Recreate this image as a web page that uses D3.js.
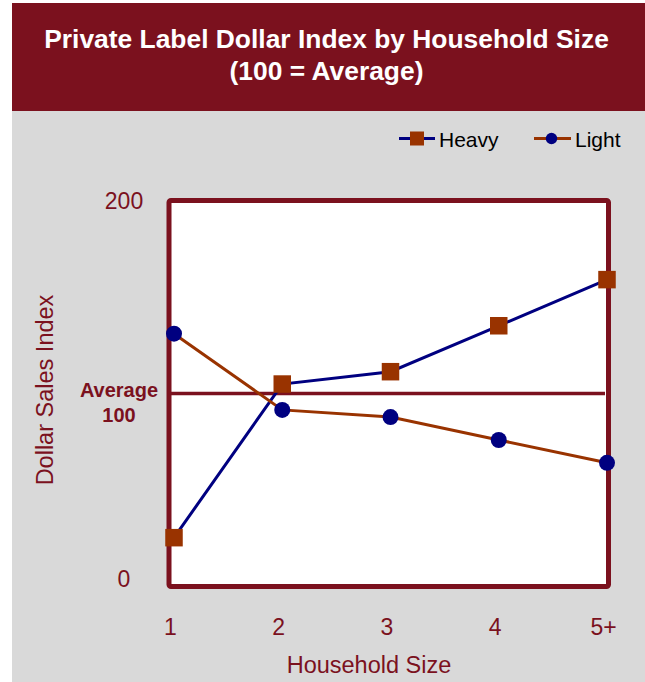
<!DOCTYPE html>
<html>
<head>
<meta charset="utf-8">
<script src="https://cdn.jsdelivr.net/npm/d3@7/dist/d3.min.js"></script>
<style>
  html, body { margin: 0; padding: 0; background: #ffffff; }
  svg { display: block; font-family: "Liberation Sans", Arial, sans-serif; }
</style>
</head>
<body>
<div id="chart"></div>
<script>
var categories = ['1', '2', '3', '4', '5+'];
var heavy = [25.3, 104.9, 111.3, 135.1, 159.0];
var light = [131.0, 91.5, 87.8, 75.9, 64.1];
var yTicks = [0, 200];
var averageValue = 100;

(function () {
    'use strict';
    var width = 645, height = 682;
    var red = '#7b111e', gray = '#d9d9d9', navy = '#000080', brown = '#993300';

    var svg = d3.select('#chart').append('svg')
        .attr('width', width)
        .attr('height', height);

    // backgrounds
    svg.append('rect').attr('x', 12).attr('y', 111).attr('width', width - 12).attr('height', height - 111).attr('fill', gray);
    svg.append('rect').attr('x', 12).attr('y', 3).attr('width', width - 12).attr('height', 108).attr('fill', red);

    var title = svg.append('text')
        .attr('text-anchor', 'middle')
        .attr('fill', '#ffffff')
        .attr('font-weight', 'bold')
        .attr('font-size', 26.4);
    title.append('tspan').attr('x', 326.5).attr('y', 47.5).text('Private Label Dollar Index by Household Size');
    title.append('tspan').attr('x', 326.5).attr('y', 79.5).text('(100 = Average)');

    var x = d3.scalePoint().domain(categories).range([174, 607]);
    var y = d3.scaleLinear().domain([0, 200]).range([586.5, 200.5]);

    // plot frame
    svg.append('rect')
        .attr('x', 169).attr('y', y(200))
        .attr('width', 608.5 - 169).attr('height', y(0) - y(200))
        .attr('rx', 2)
        .attr('fill', '#ffffff')
        .attr('stroke', red)
        .attr('stroke-width', 5);

    // average line
    svg.append('line')
        .attr('x1', 171).attr('x2', 605)
        .attr('y1', y(averageValue)).attr('y2', y(averageValue))
        .attr('stroke', red)
        .attr('stroke-width', 3.5);

    // y ticks
    svg.selectAll('.ytick').data(yTicks).enter().append('text')
        .attr('class', 'ytick')
        .attr('x', 124)
        .attr('y', function (d) { return d === 0 ? y(d) : y(d) + 8; })
        .attr('text-anchor', 'middle')
        .attr('fill', red)
        .attr('font-size', 23)
        .text(function (d) { return d; });

    var avgLabel = svg.append('text')
        .attr('text-anchor', 'middle')
        .attr('fill', red)
        .attr('font-weight', 'bold')
        .attr('font-size', 20);
    avgLabel.append('tspan').attr('x', 119).attr('y', y(averageValue) + 3).text('Average');
    avgLabel.append('tspan').attr('x', 119).attr('y', y(averageValue) + 28).text(averageValue);

    svg.append('text')
        .attr('transform', 'translate(53,390) rotate(-90)')
        .attr('text-anchor', 'middle')
        .attr('fill', red)
        .attr('font-size', 23.5)
        .text('Dollar Sales Index');

    // x axis labels
    var xAxis = d3.axisBottom(x).tickSize(0).tickPadding(0);
    var gx = svg.append('g')
        .attr('transform', 'translate(-4,618)')
        .call(xAxis);
    gx.select('.domain').remove();
    gx.selectAll('text')
        .attr('fill', red)
        .attr('font-size', 23)
        .attr('font-family', '"Liberation Sans", Arial, sans-serif')
        .attr('dy', '0.72em');

    svg.append('text')
        .attr('x', 369).attr('y', 673)
        .attr('text-anchor', 'middle')
        .attr('fill', red)
        .attr('font-size', 23.5)
        .text('Household Size');

    var line = d3.line()
        .x(function (d, i) { return x(categories[i]); })
        .y(function (d) { return y(d); });

    svg.append('path').datum(heavy)
        .attr('d', line).attr('fill', 'none')
        .attr('stroke', navy).attr('stroke-width', 3);
    svg.append('path').datum(light)
        .attr('d', line).attr('fill', 'none')
        .attr('stroke', brown).attr('stroke-width', 3);

    var sq = 17.5;
    svg.selectAll('.heavy').data(heavy).enter().append('rect')
        .attr('class', 'heavy')
        .attr('x', function (d, i) { return x(categories[i]) - sq / 2; })
        .attr('y', function (d) { return y(d) - sq / 2; })
        .attr('width', sq).attr('height', sq)
        .attr('fill', brown);
    svg.selectAll('.light').data(light).enter().append('circle')
        .attr('class', 'light')
        .attr('cx', function (d, i) { return x(categories[i]); })
        .attr('cy', function (d) { return y(d); })
        .attr('r', 8)
        .attr('fill', navy);

    // legend
    var lg = svg.append('g');
    lg.append('line').attr('x1', 399).attr('x2', 435).attr('y1', 138.5).attr('y2', 138.5)
        .attr('stroke', navy).attr('stroke-width', 3);
    lg.append('rect').attr('x', 410).attr('y', 131.5).attr('width', 14).attr('height', 14).attr('fill', brown);
    lg.append('text').attr('x', 439).attr('y', 146.5).attr('font-size', 21).attr('fill', '#000').text('Heavy');

    lg.append('line').attr('x1', 534).attr('x2', 571).attr('y1', 138.5).attr('y2', 138.5)
        .attr('stroke', brown).attr('stroke-width', 3);
    lg.append('circle').attr('cx', 551.5).attr('cy', 138.5).attr('r', 5.7).attr('fill', navy);
    lg.append('text').attr('x', 575).attr('y', 146.5).attr('font-size', 21).attr('fill', '#000').text('Light');
})();
</script>
</body>
</html>
